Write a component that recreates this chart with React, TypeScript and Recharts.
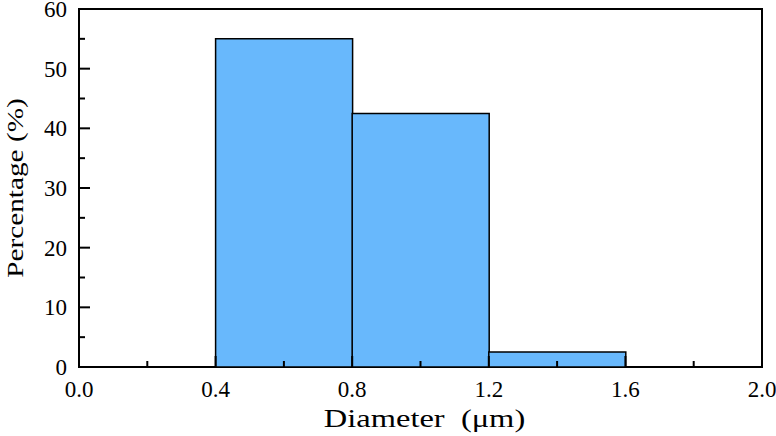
import { ComposedChart, Bar, XAxis, YAxis, ReferenceArea, Label } from "recharts";

// histogram bins (centre of each 0.4 µm bin) and share of particles
const binCenters = [0.6, 1.0, 1.4];
const percentages = [55, 42.5, 2.5];

const xTicks = [0, 0.2, 0.4, 0.6, 0.8, 1.0, 1.2, 1.4, 1.6, 1.8, 2.0];
const xMajor = [0, 0.4, 0.8, 1.2, 1.6, 2.0];
const yTicks = [0, 5, 10, 15, 20, 25, 30, 35, 40, 45, 50, 55, 60];
const yMajor = [0, 10, 20, 30, 40, 50, 60];

const data = binCenters.map((d, i) => ({ d, pct: percentages[i] }));

const FONT = "'Liberation Serif', 'Times New Roman', serif";
const tickStyle = { fontSize: 23, fontFamily: FONT };
const labelStyle = { fontSize: 24, fontFamily: FONT, whiteSpace: "pre" as const };

const isMajor = (list: number[], v: number) => list.some((m) => Math.abs(m - v) < 1e-6);

function XTick(props: any) {
  const { x, y, payload } = props;
  const major = isMajor(xMajor, payload.value);
  return (
    <g>
      <line x1={x} y1={y} x2={x} y2={y - (major ? 11 : 6)} stroke="#000" strokeWidth={2} />
      {major && (
        <text x={x} y={y + 30} textAnchor="middle" style={tickStyle} fill="#000">
          {payload.value.toFixed(1)}
        </text>
      )}
    </g>
  );
}

function YTick(props: any) {
  const { x, y, payload } = props;
  const major = isMajor(yMajor, payload.value);
  return (
    <g>
      <line x1={x} y1={y} x2={x + (major ? 11 : 6)} y2={y} stroke="#000" strokeWidth={2} />
      {major && (
        <text x={x - 12} y={y + 8} textAnchor="end" style={tickStyle} fill="#000">
          {payload.value}
        </text>
      )}
    </g>
  );
}

export default function App() {
  return (
    <div style={{ position: "absolute", left: 0, top: 0, background: "#fff" }}>
      <ComposedChart
        width={776}
        height={436}
        data={data}
        margin={{ top: 9, right: 14, left: 0, bottom: 0 }}
        barCategoryGap={0}
        barGap={0}
      >
        <XAxis
          dataKey="d"
          type="number"
          domain={[0, 2]}
          ticks={xTicks}
          interval={0}
          allowDataOverflow
          height={69}
          axisLine={false}
          tickLine={false}
          tickSize={0}
          tickMargin={0}
          tick={<XTick />}
        >
          <Label
            value="Diameter  (μm)"
            content={({ viewBox }: any) => {
              const cx = viewBox.x + viewBox.width / 2 + 4;
              const by = viewBox.y + 60;
              return (
                <text
                  x={0}
                  y={0}
                  transform={`translate(${cx}, ${by}) scale(1.3, 1)`}
                  textAnchor="middle"
                  style={{ ...labelStyle, fontSize: 25 }}
                  fill="#000"
                >
                  Diameter  (μm)
                </text>
              );
            }}
          />
        </XAxis>
        <YAxis
          type="number"
          domain={[0, 60]}
          ticks={yTicks}
          interval={0}
          width={79}
          axisLine={false}
          tickLine={false}
          tickSize={0}
          tickMargin={0}
          tick={<YTick />}
        >
          <Label
            value="Percentage (%)"
            content={({ viewBox }: any) => {
              const bx = 23;
              const cy = viewBox.y + viewBox.height / 2;
              return (
                <text
                  x={0}
                  y={0}
                  transform={`translate(${bx}, ${cy}) rotate(-90) scale(1.22, 1)`}
                  textAnchor="middle"
                  style={labelStyle}
                  fill="#000"
                >
                  Percentage (%)
                </text>
              );
            }}
          />
        </YAxis>
        <Bar
          dataKey="pct"
          fill="#68b8fc"
          stroke="#000"
          strokeWidth={1.5}
          isAnimationActive={false}
        />
        <ReferenceArea
          x1={0}
          x2={2}
          y1={0}
          y2={60}
          fill="none"
          stroke="#000"
          strokeWidth={2}
          ifOverflow="visible"
        />
      </ComposedChart>
    </div>
  );
}
